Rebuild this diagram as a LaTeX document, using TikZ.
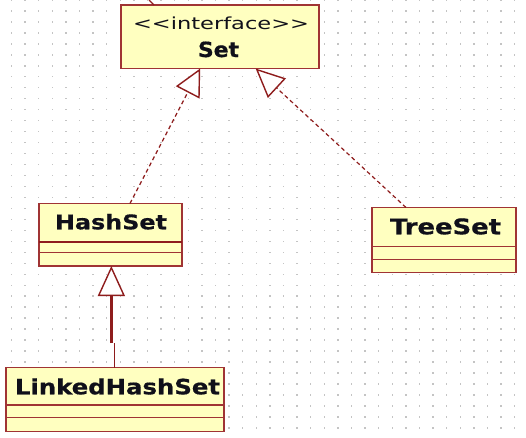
\documentclass[tikz,border=0pt]{standalone}
\usepackage{fontspec}
\setmainfont{DejaVu Sans}
\newfontfamily\heavyfont[FakeBold=0.6]{DejaVu Sans Bold}
\usepackage{graphicx}
\usetikzlibrary{arrows.meta,calc}
\definecolor{umlfill}{HTML}{FFFFC0}
\definecolor{umlline}{HTML}{A03434}
\definecolor{umlconn}{HTML}{8E1C1C}
\definecolor{griddot}{HTML}{C4C4C4}
\definecolor{umltext}{HTML}{10101A}
\begin{document}
\begin{tikzpicture}[x=1pt,y=-1pt,
  classbox/.style={draw=umlline, fill=umlfill, line width=1.8pt, rectangle,
    inner sep=0pt, outer sep=0pt, anchor=north west},
  divider/.style={draw=umlline, line width=1.5pt},
  thickdivider/.style={draw=umlconn, line width=2.4pt},
  classtext/.style={anchor=base west, inner sep=0pt, outer sep=0pt, text=umltext},
  realize/.style={draw=umlconn, line width=1.2pt, dash pattern=on 4pt off 3pt},
  inherit/.style={draw=umlconn, line width=2.4pt},
  thinconn/.style={draw=umlconn, line width=1.1pt}]
\useasboundingbox (0,0) rectangle (526,437);
\fill[white] (0,0) rectangle (526,437);
\foreach \i in {0,...,37}{
  \foreach \j in {0,...,39}{
    \fill[griddot] ({11.5+13.6*\i-0.7},{10.97*\j-0.7}) rectangle ++(1.4,1.4);
  }
}
% classes
\node[classbox, minimum width=198pt, minimum height=63.5pt] (set) at (121,5) {};
\node[classbox, minimum width=143pt, minimum height=62.5pt] (hs) at (39,203.5) {};
\node[classbox, minimum width=144pt, minimum height=65pt] (ts) at (372,207.5) {};
\node[classbox, minimum width=218.3pt, minimum height=64pt] (lhs) at (6,367.5) {};
% compartments
\draw[thickdivider] ($(hs.north west)+(0,38.2)$) -- ($(hs.north east)+(0,38.2)$);
\draw[divider] ($(hs.north west)+(0,49)$) -- ($(hs.north east)+(0,49)$);
\draw[divider] ($(ts.north west)+(0,39.2)$) -- ($(ts.north east)+(0,39.2)$);
\draw[divider] ($(ts.north west)+(0,51.8)$) -- ($(ts.north east)+(0,51.8)$);
\draw[divider] ($(lhs.north west)+(0,37.5)$) -- ($(lhs.north east)+(0,37.5)$);
\draw[divider] ($(lhs.north west)+(0,50.2)$) -- ($(lhs.north east)+(0,50.2)$);
% texts
\node[classtext] (settag) at (133,29.3) {\resizebox{176pt}{12.6pt}{<{}<interface>{}>}};
\node[classtext] (setname) at (198,57) {\resizebox{41pt}{15.5pt}{\heavyfont Set}};
\node[classtext] (hsname) at (55,229.3) {\resizebox{112pt}{15.3pt}{\heavyfont HashSet}};
\node[classtext] (tsname) at (390,234.3) {\resizebox{111pt}{16pt}{\heavyfont TreeSet}};
\node[classtext] (lhsname) at (15,394.3) {\resizebox{205pt}{16pt}{\heavyfont LinkedHashSet}};
% connectors
\coordinate (hsTop) at ($(hs.north west)!0.636!(hs.north east)$);
\coordinate (setA) at ($(set.south west)!0.40!(set.south east)$);
\draw[realize, -{Triangle[length=27pt, width=26.6pt, fill=white, line width=1.4pt]}] (hsTop) -- (setA);
\coordinate (tsTop) at ($(ts.north west)!0.236!(ts.north east)$);
\coordinate (setB) at ($(set.south west)!0.68!(set.south east)$);
\draw[realize, -{Triangle[length=29pt, width=26.4pt, fill=white, line width=1.4pt]}] (tsTop) -- (setB);
\coordinate (lhsTop) at ($(lhs.north west)!0.496!(lhs.north east)$);
\coordinate (hsBot) at ($(hs.south west)!0.506!(hs.south east)$);
\coordinate (jog) at (0,343);
\draw[thinconn] (lhsTop) -- (lhsTop |- jog);
\draw[inherit, -{Triangle[length=30pt, width=27pt, fill=white, line width=1.4pt]}] (hsBot |- jog) -- (hsBot);
% stub of a connector leaving the top edge
\coordinate (stub) at (149,0);
\draw[thinconn] (stub) -- ($(set.north west)+(33,0)$);
\end{tikzpicture}
\end{document}
